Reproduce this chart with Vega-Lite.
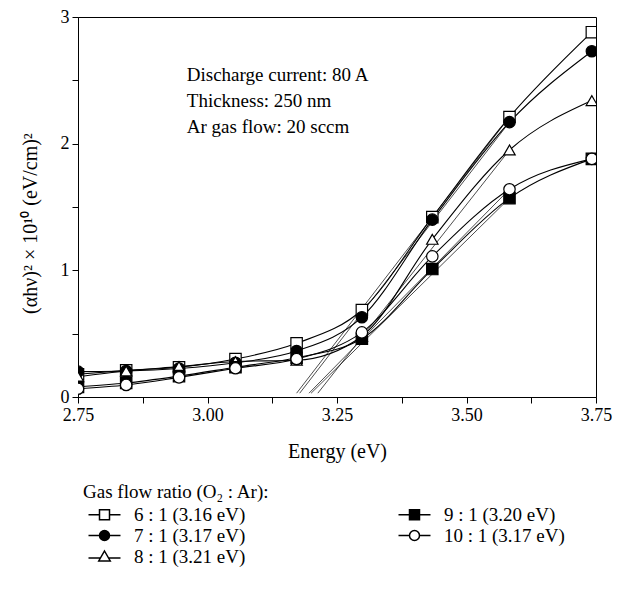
{
  "$schema": "https://vega.github.io/schema/vega-lite/v6.json",
  "width": 518,
  "height": 380,
  "autosize": {"type": "none"},
  "padding": {"left": 78, "top": 17, "right": 27, "bottom": 197},
  "background": "white",
  "config": {
    "font": "Liberation Serif",
    "view": {"stroke": "black", "strokeWidth": 1},
    "axis": {
      "grid": false,
      "domainColor": "black",
      "tickColor": "black",
      "labelColor": "black",
      "titleColor": "black",
      "labelFont": "Liberation Serif",
      "titleFont": "Liberation Serif",
      "labelFontSize": 18,
      "titleFontSize": 20,
      "titleFontWeight": "normal",
      "tickSize": 6,
      "labelOverlap": false,
      "labelFlush": false
    }
  },
  "datasets": {
    "curves": [
      {"s": "6:1", "e": 2.75, "v": 0.18},
      {"s": "6:1", "e": 2.843, "v": 0.21},
      {"s": "6:1", "e": 2.945, "v": 0.235},
      {"s": "6:1", "e": 3.054, "v": 0.3},
      {"s": "6:1", "e": 3.172, "v": 0.424},
      {"s": "6:1", "e": 3.298, "v": 0.687},
      {"s": "6:1", "e": 3.434, "v": 1.42},
      {"s": "6:1", "e": 3.583, "v": 2.21},
      {"s": "6:1", "e": 3.742, "v": 2.88},
      {"s": "7:1", "e": 2.75, "v": 0.2},
      {"s": "7:1", "e": 2.843, "v": 0.205},
      {"s": "7:1", "e": 2.945, "v": 0.225},
      {"s": "7:1", "e": 3.054, "v": 0.27},
      {"s": "7:1", "e": 3.172, "v": 0.363},
      {"s": "7:1", "e": 3.298, "v": 0.63},
      {"s": "7:1", "e": 3.434, "v": 1.4},
      {"s": "7:1", "e": 3.583, "v": 2.17},
      {"s": "7:1", "e": 3.742, "v": 2.73},
      {"s": "8:1", "e": 2.75, "v": 0.16},
      {"s": "8:1", "e": 2.843, "v": 0.205},
      {"s": "8:1", "e": 2.945, "v": 0.24},
      {"s": "8:1", "e": 3.054, "v": 0.28},
      {"s": "8:1", "e": 3.172, "v": 0.29},
      {"s": "8:1", "e": 3.298, "v": 0.48},
      {"s": "8:1", "e": 3.434, "v": 1.245},
      {"s": "8:1", "e": 3.583, "v": 1.95},
      {"s": "8:1", "e": 3.742, "v": 2.34},
      {"s": "9:1", "e": 2.75, "v": 0.08},
      {"s": "9:1", "e": 2.843, "v": 0.11},
      {"s": "9:1", "e": 2.945, "v": 0.165},
      {"s": "9:1", "e": 3.054, "v": 0.235},
      {"s": "9:1", "e": 3.172, "v": 0.31},
      {"s": "9:1", "e": 3.298, "v": 0.46},
      {"s": "9:1", "e": 3.434, "v": 1.01},
      {"s": "9:1", "e": 3.583, "v": 1.57},
      {"s": "9:1", "e": 3.742, "v": 1.88},
      {"s": "10:1", "e": 2.75, "v": 0.065},
      {"s": "10:1", "e": 2.843, "v": 0.095},
      {"s": "10:1", "e": 2.945, "v": 0.155},
      {"s": "10:1", "e": 3.054, "v": 0.227},
      {"s": "10:1", "e": 3.172, "v": 0.3},
      {"s": "10:1", "e": 3.298, "v": 0.51},
      {"s": "10:1", "e": 3.434, "v": 1.11},
      {"s": "10:1", "e": 3.583, "v": 1.64},
      {"s": "10:1", "e": 3.742, "v": 1.88}
    ],
    "tangents": [
      {"s": "6:1", "e": 3.172, "v": 0.03},
      {"s": "6:1", "e": 3.583, "v": 2.21},
      {"s": "7:1", "e": 3.178, "v": 0.03},
      {"s": "7:1", "e": 3.583, "v": 2.17},
      {"s": "8:1", "e": 3.213, "v": 0.03},
      {"s": "8:1", "e": 3.583, "v": 1.95},
      {"s": "9:1", "e": 3.2, "v": 0.03},
      {"s": "9:1", "e": 3.583, "v": 1.57},
      {"s": "10:1", "e": 3.196, "v": 0.03},
      {"s": "10:1", "e": 3.583, "v": 1.64}
    ]
  },
  "resolve": {"scale": {"shape": "independent", "fill": "independent"}},
  "layer": [
    {
      "data": {"name": "tangents"},
      "mark": {"type": "line", "color": "black", "strokeWidth": 0.7},
      "encoding": {
        "x": {"field": "e", "type": "quantitative", "scale": {"domain": [2.75, 3.75], "nice": false, "zero": false},
          "axis": {"title": "Energy (eV)", "titlePadding": 17, "labelPadding": 3,
            "values": [2.75, 2.875, 3, 3.125, 3.25, 3.375, 3.5, 3.625, 3.75],
            "labelExpr": "round(datum.value*8) % 2 == 0 ? format(datum.value, '.2f') : ''"}},
        "y": {"field": "v", "type": "quantitative", "scale": {"domain": [0, 3], "nice": false},
          "axis": {"title": "(αhν)² × 10¹⁰ (eV/cm)²", "titleFontSize": 20, "titlePadding": 20, "titleY": 206, "labelPadding": 3,
            "values": [0, 0.5, 1, 1.5, 2, 2.5, 3],
            "labelExpr": "datum.value % 1 == 0 ? format(datum.value, 'd') : ''"}},
        "detail": {"field": "s"}
      }
    },
    {
      "data": {"name": "curves"},
      "mark": {"type": "line", "color": "black", "strokeWidth": 1.1, "interpolate": "monotone"},
      "encoding": {
        "x": {"field": "e", "type": "quantitative"},
        "y": {"field": "v", "type": "quantitative"},
        "detail": {"field": "s"}
      }
    },
    {
      "data": {"name": "curves"},
      "mark": {"type": "point", "filled": true, "stroke": "black", "strokeWidth": 1.2, "size": 130, "opacity": 1, "clip": true},
      "encoding": {
        "x": {"field": "e", "type": "quantitative"},
        "y": {"field": "v", "type": "quantitative"},
        "shape": {"field": "s", "type": "nominal", "legend": null,
          "scale": {"domain": ["6:1", "7:1", "8:1", "9:1", "10:1"], "range": ["square", "circle", "triangle-up", "square", "circle"]}},
        "fill": {"field": "s", "type": "nominal", "legend": null,
          "scale": {"domain": ["6:1", "7:1", "8:1", "9:1", "10:1"], "range": ["white", "black", "white", "black", "white"]}}
      }
    },
    {
      "data": {"name": "curves"},
      "mark": {"type": "point", "filled": false, "color": "black", "strokeWidth": 1.2, "opacity": 0},
      "encoding": {
        "x": {"field": "e", "type": "quantitative"},
        "y": {"field": "v", "type": "quantitative"},
        "shape": {"field": "s", "type": "nominal",
          "scale": {"domain": ["6:1", "7:1", "8:1", "9:1", "10:1"],
            "range": [
              "M-0.8,0H1.4M3.4,0H5.6M1.4,-1H3.4V1H1.4Z",
              "M-0.8,0H1.4M3.4,0H5.6M1.4,0A1,1,0,1,0,3.4,0A1,1,0,1,0,1.4,0ZM1.964,-0.9H2.836M1.8,-0.8H3M1.686,-0.7H3.114M1.6,-0.6H3.2M1.534,-0.5H3.266M1.483,-0.4H3.317M1.446,-0.3H3.354M1.42,-0.2H3.38M1.405,-0.1H3.395M1.405,0.1H3.395M1.42,0.2H3.38M1.446,0.3H3.354M1.483,0.4H3.317M1.534,0.5H3.266M1.6,0.6H3.2M1.686,0.7H3.114M1.8,0.8H3M1.964,0.9H2.836",
              "M-0.8,0.3H1.6M3.2,0.3H5.6M2.4,-1.1L3.55,0.9H1.25Z",
              "M-0.8,0H1.4M3.4,0H5.6M1.4,-1H3.4V1H1.4ZM1.4,-0.85H3.4M1.4,-0.7H3.4M1.4,-0.55H3.4M1.4,-0.4H3.4M1.4,-0.25H3.4M1.4,-0.1H3.4M1.4,0.1H3.4M1.4,0.25H3.4M1.4,0.4H3.4M1.4,0.55H3.4M1.4,0.7H3.4M1.4,0.85H3.4",
              "M-0.8,0H1.4M3.4,0H5.6M1.4,0A1,1,0,1,0,3.4,0A1,1,0,1,0,1.4,0Z"
            ]},
          "legend": {"title": "Gas flow ratio (O₂ : Ar):", "orient": "none", "legendX": 5, "legendY": 466, "columns": 2,
            "columnPadding": 147, "rowPadding": 1, "symbolSize": 100,
            "labelFont": "Liberation Serif", "labelFontSize": 19, "labelColor": "black", "labelOffset": 32, "labelLimit": 300,
            "titleFont": "Liberation Serif", "titleFontSize": 19, "titleFontWeight": "normal", "titleColor": "black", "titlePadding": 3, "titleLimit": 400,
            "labelExpr": "datum.label == '6:1' ? '6 : 1 (3.16 eV)' : datum.label == '7:1' ? '7 : 1 (3.17 eV)' : datum.label == '8:1' ? '8 : 1 (3.21 eV)' : datum.label == '9:1' ? '9 : 1 (3.20 eV)' : '10 : 1 (3.17 eV)'",
            "encode": {"symbols": {"stroke": {"value": "black"}, "strokeWidth": {"value": 1.2}, "opacity": {"value": 1}}}}}
      }
    },
    {
      "data": {"values": [{"note": "conditions"}]},
      "mark": {"type": "text", "text": ["Discharge current: 80 A", "Thickness: 250 nm", "Ar gas flow: 20 sccm"],
        "align": "left", "baseline": "top", "lineHeight": 26, "font": "Liberation Serif", "fontSize": 19, "color": "black"},
      "encoding": {
        "x": {"datum": 2.96, "type": "quantitative"},
        "y": {"datum": 2.61, "type": "quantitative"}
      }
    }
  ]
}
